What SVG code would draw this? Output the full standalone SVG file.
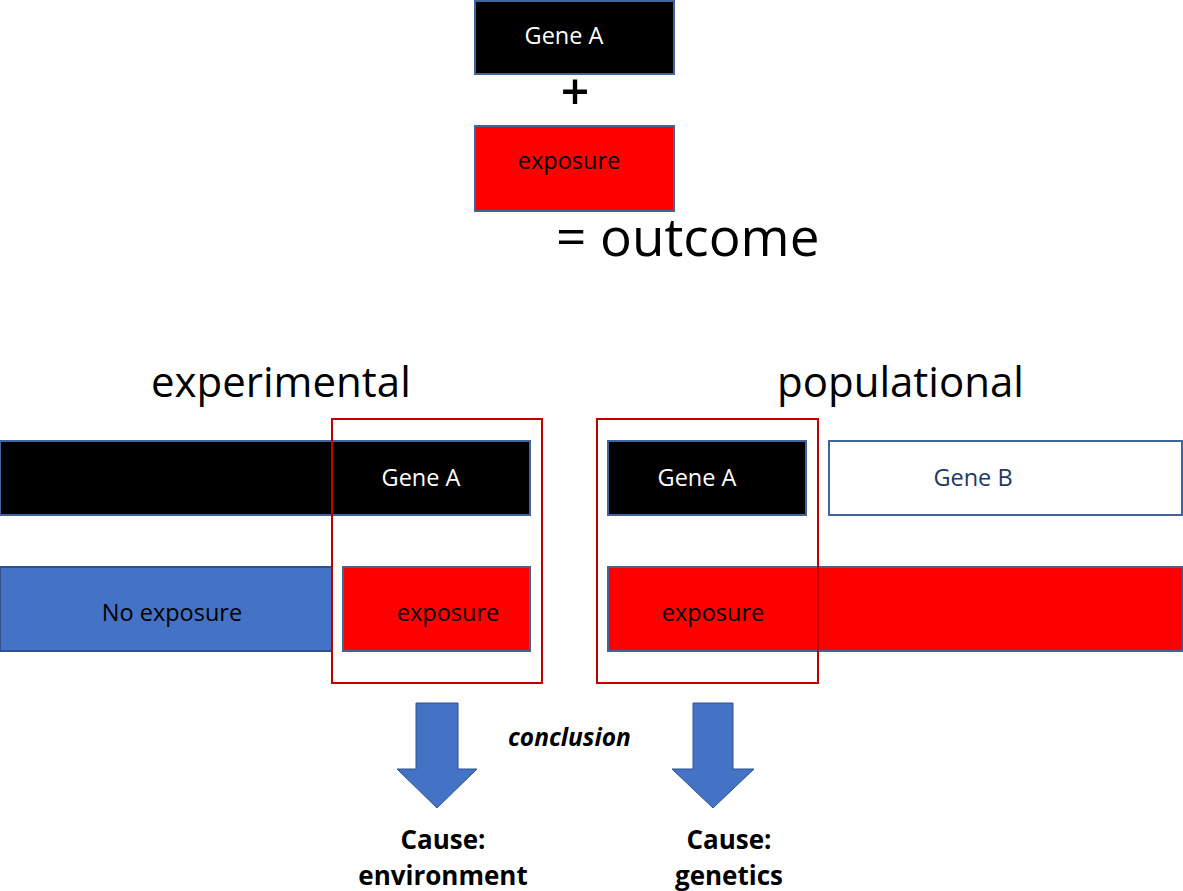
<svg xmlns="http://www.w3.org/2000/svg" width="1183" height="891" viewBox="0 0 1183 891">
<style>
text { font-family: "Open Sans", "Noto Sans", sans-serif; }
.blk { fill: #000000; stroke: #41649b; stroke-width: 2; }
.red { fill: #ff0000; stroke: #41649b; stroke-width: 2; }
.blue { fill: #4472c4; stroke: #2f528f; stroke-width: 2; }
.wht { fill: #ffffff; stroke: #41649b; stroke-width: 2; }
.frame { fill: none; stroke: #c00000; stroke-width: 2; }
.lbl { font-size: 23.5px; text-anchor: middle; }
.w { fill: #ffffff; }
.k { fill: #000000; }
.nav { fill: #1f3864; }
.head { font-size: 42px; fill: #000; }
.cause { font-size: 26px; font-weight: bold; text-anchor: middle; fill: #000; }
.arrow { fill: #4472c4; stroke: #2f528f; stroke-width: 1; }
</style>
<rect width="1183" height="891" fill="#ffffff"/>

<g id="top-geneA">
<rect class="blk" x="475" y="1" width="199" height="73"/>
<text class="lbl w" x="564" y="44">Gene A</text>
</g>
<g id="plus">
<text x="575" y="110" font-size="50" font-weight="600" text-anchor="middle" fill="#000">+</text>
</g>
<g id="top-exposure">
<rect class="red" x="475" y="126" width="199" height="85"/>
<text class="lbl k" x="569" y="169">exposure</text>
</g>
<g id="outcome">
<text x="556" y="256" font-size="53" fill="#000">= outcome</text>
</g>

<g id="title-experimental"><text class="head" x="151" y="397">experimental</text></g>
<g id="title-populational"><text class="head" x="777" y="397">populational</text></g>

<g id="exp-geneA">
<rect class="blk" x="0" y="441" width="530" height="74"/>
<text class="lbl w" x="421" y="486">Gene A</text>
</g>
<g id="exp-noexposure">
<rect class="blue" x="0" y="567" width="332" height="84"/>
<text class="lbl k" x="172" y="621">No exposure</text>
</g>
<g id="exp-exposure">
<rect class="red" x="343" y="567" width="187" height="84"/>
<text class="lbl k" x="448" y="621">exposure</text>
</g>

<g id="pop-geneA">
<rect class="blk" x="608" y="441" width="198" height="74"/>
<text class="lbl w" x="697" y="486">Gene A</text>
</g>
<g id="pop-geneB">
<rect class="wht" x="829" y="441" width="353" height="74"/>
<text class="lbl nav" x="973" y="486">Gene B</text>
</g>
<g id="pop-exposure">
<rect class="red" x="608" y="567" width="575" height="84"/>
<text class="lbl k" x="713" y="621">exposure</text>
</g>

<g id="frame-exp"><rect class="frame" x="332" y="419" width="210" height="264"/></g>
<g id="frame-pop"><rect class="frame" x="597" y="419" width="221" height="264"/></g>

<g id="connectors">
<polygon class="arrow" points="416,703 458,703 458,769 477,769 437,808 397,769 416,769"/>
<polygon class="arrow" points="693,703 733,703 733,769 754,769 713,808 672,769 693,769"/>
</g>

<g id="conclusion-label">
<text x="508" y="746" font-size="24.5" font-weight="bold" font-style="italic" fill="#000">conclusion</text>
</g>
<g id="cause-env">
<text class="cause" x="443" y="849">Cause:</text>
<text class="cause" x="443" y="885">environment</text>
</g>
<g id="cause-gen">
<text class="cause" x="729" y="849">Cause:</text>
<text class="cause" x="729" y="885">genetics</text>
</g>
</svg>
